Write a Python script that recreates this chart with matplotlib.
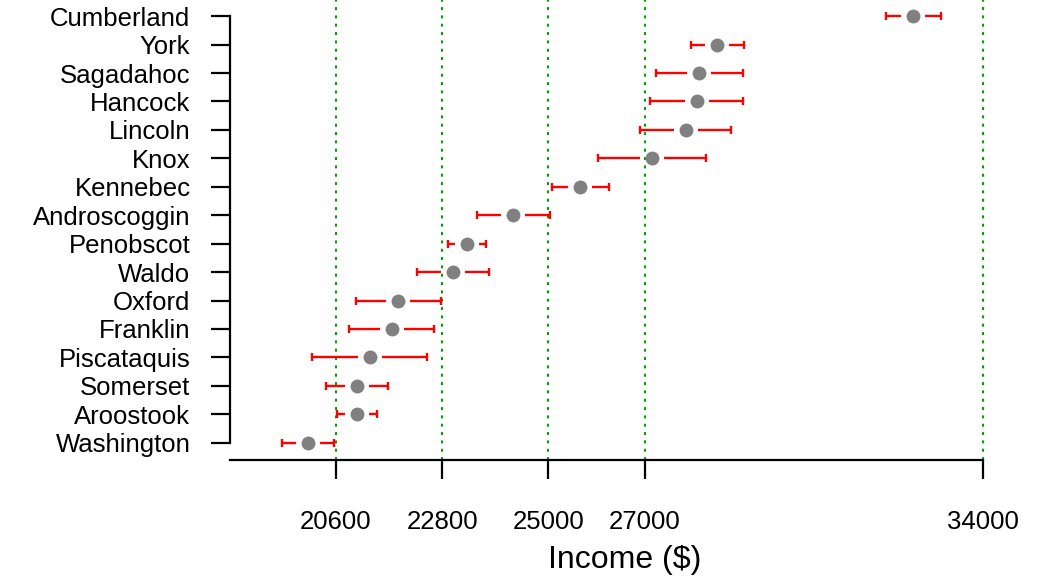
import matplotlib
matplotlib.use("Agg")
import matplotlib.pyplot as plt

plt.rcParams["font.family"] = ["Liberation Sans", "DejaVu Sans"]

# counties, bottom to top
counties = ["Washington", "Aroostook", "Somerset", "Piscataquis", "Franklin",
            "Oxford", "Waldo", "Penobscot", "Androscoggin", "Kennebec",
            "Knox", "Lincoln", "Hancock", "Sagadahoc", "York", "Cumberland"]
income = [20020, 21035, 21035, 21300, 21760, 21880, 23020, 23310, 24265,
          25650, 27145, 27850, 28075, 28115, 28490, 32550]
lower = [19475, 20615, 20390, 20100, 20865, 21015, 22275, 22915, 23520,
         25070, 26020, 26890, 27100, 27225, 27945, 31990]
upper = [20565, 21450, 21675, 22490, 22630, 22775, 23770, 23710, 25035,
         26255, 28265, 28785, 29030, 29030, 29050, 33130]
xticks = [20600, 22800, 25000, 27000, 34000]

gap = 250  # blank space left around each point on the bars

fig = plt.figure(figsize=(10.56, 5.76), dpi=100)
ax = fig.add_axes([230 / 1056, 116 / 576, 790 / 1056, 460 / 576])
ax.set_xlim(18405, 34764)
ax.set_ylim(0.39, 16.57)

for v in xticks:
    ax.axvline(v, color="#00A000", lw=1.5, linestyle=(0, (1.4, 2.6)), zorder=1)

ys = list(range(1, len(counties) + 1))
for y, m, lo, hi in zip(ys, income, lower, upper):
    if lo < m - gap:
        ax.plot([lo, m - gap], [y, y], color="red", lw=1.7, solid_capstyle="butt", zorder=2)
    if hi > m + gap:
        ax.plot([m + gap, hi], [y, y], color="red", lw=1.7, solid_capstyle="butt", zorder=2)
ax.plot(lower, ys, "|", color="red", markersize=6, mew=1.7, zorder=2)
ax.plot(upper, ys, "|", color="red", markersize=6, mew=1.7, zorder=2)
ax.plot(income, ys, "o", color="#808080", markersize=10, mew=0, zorder=3)

ax.set_yticks(ys)
ax.set_yticklabels(counties)
ax.set_xticks(xticks)
ax.set_xticklabels([str(v) for v in xticks])

for s in ["top", "right"]:
    ax.spines[s].set_visible(False)
ax.spines["left"].set_bounds(1, 16)
ax.spines["bottom"].set_bounds(18405, 34000)
ax.spines["left"].set_linewidth(1.6)
ax.spines["bottom"].set_linewidth(1.6)
ax.tick_params(axis="y", length=13.5, width=1.6, pad=15, labelsize=18.5)
ax.tick_params(axis="x", length=14, width=1.6, pad=22, labelsize=18.5)
ax.set_xlabel("Income ($)", fontsize=23, labelpad=8)

fig.savefig("out.png", dpi=100)
